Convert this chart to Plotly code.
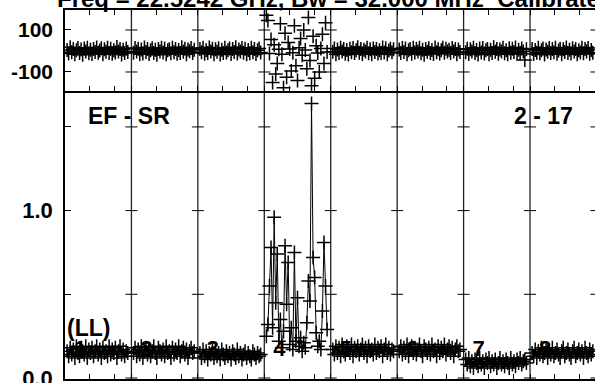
import plotly.graph_objects as go

# ---------------- data ----------------
panel_labels = ["1", "2", "3", "4", "5", "6", "7", "8"]
channels = [2 + 1.5 * i for i in range(40)]   # channel index inside each 64-channel panel
panel_width = 64

amp_1 = [0.16,0.13,0.18,0.14,0.17,0.12,0.19,0.15,0.13,0.18,0.16,0.14,0.19,0.12,0.17,0.15,0.18,0.13,0.16,0.19,
         0.14,0.17,0.12,0.18,0.15,0.16,0.13,0.19,0.14,0.17,0.15,0.18,0.12,0.16,0.19,0.14,0.17,0.13,0.16,0.15]
amp_2 = [0.15,0.18,0.13,0.17,0.14,0.19,0.12,0.16,0.18,0.14,0.17,0.13,0.16,0.19,0.15,0.12,0.18,0.16,0.14,0.17,
         0.13,0.19,0.15,0.16,0.12,0.18,0.14,0.17,0.15,0.19,0.13,0.16,0.18,0.14,0.17,0.12,0.16,0.18,0.15,0.16]
amp_3 = [0.15,0.12,0.17,0.13,0.16,0.11,0.15,0.14,0.17,0.12,0.16,0.13,0.15,0.11,0.17,0.14,0.12,0.16,0.13,0.15,
         0.11,0.16,0.14,0.12,0.17,0.13,0.15,0.11,0.14,0.16,0.12,0.15,0.13,0.11,0.16,0.14,0.12,0.15,0.13,0.14]
amp_4 = [0.25,0.32,0.55,0.78,0.30,0.96,0.45,0.74,0.22,0.35,0.18,0.28,0.79,0.44,0.69,0.20,0.30,0.17,0.75,0.22,
         0.48,0.19,0.24,0.16,0.21,0.18,0.33,0.58,0.46,1.64,0.72,0.60,0.27,0.19,0.22,0.17,0.40,0.81,0.55,0.29]
amp_5 = [0.17,0.14,0.19,0.15,0.18,0.13,0.20,0.16,0.14,0.19,0.17,0.15,0.20,0.13,0.18,0.16,0.19,0.14,0.17,0.20,
         0.15,0.18,0.13,0.19,0.16,0.17,0.14,0.20,0.15,0.18,0.16,0.19,0.13,0.17,0.20,0.15,0.18,0.14,0.17,0.16]
amp_6 = [0.16,0.19,0.14,0.18,0.15,0.20,0.13,0.17,0.19,0.15,0.18,0.14,0.17,0.20,0.16,0.13,0.19,0.17,0.15,0.18,
         0.14,0.20,0.16,0.17,0.13,0.19,0.15,0.18,0.16,0.20,0.14,0.17,0.19,0.15,0.18,0.13,0.17,0.19,0.16,0.17]
amp_7 = [0.11,0.08,0.12,0.07,0.10,0.06,0.11,0.09,0.07,0.12,0.08,0.10,0.06,0.11,0.09,0.12,0.07,0.10,0.08,0.11,
         0.06,0.09,0.12,0.08,0.10,0.07,0.11,0.09,0.06,0.12,0.08,0.10,0.07,0.11,0.09,0.12,0.08,0.10,0.11,0.09]
amp_8 = [0.15,0.13,0.17,0.12,0.16,0.14,0.18,0.13,0.15,0.17,0.12,0.16,0.14,0.18,0.13,0.15,0.17,0.14,0.12,0.16,
         0.18,0.13,0.15,0.17,0.14,0.12,0.16,0.18,0.13,0.15,0.17,0.14,0.16,0.12,0.18,0.15,0.13,0.17,0.14,0.16]

phs_1 = [5,-12,18,-6,10,-15,3,14,-9,7,-18,12,-3,16,-11,6,-14,9,-5,17,-8,2,13,-16,8,-4,15,-10,11,-13,4,-7,19,-2,9,-17,6,-9,12,-5]
phs_2 = [-8,14,-3,11,-16,7,-12,17,-5,9,-14,4,13,-10,6,-18,10,-2,15,-7,12,-15,3,8,-11,16,-6,10,-13,5,-9,18,-4,11,-16,7,-1,14,-10,6]
phs_3 = [10,-6,15,-13,4,-9,17,-2,11,-15,8,-4,13,-17,6,-10,16,-7,3,12,-14,9,-5,18,-12,7,-3,14,-8,11,-16,5,-11,15,-6,9,-14,4,12,-7]
phs_4 = [170,145,-12,55,-150,30,-110,-60,8,130,-15,-175,85,-125,40,10,-95,-8,120,-70,
         -140,15,60,-20,100,5,-85,160,-45,-165,70,-130,25,-10,-100,12,80,-60,135,-5]
phs_5 = [-4,12,-15,7,-9,16,-2,10,-13,5,-17,11,-6,14,-10,3,18,-8,9,-14,6,-3,15,-11,8,-16,12,-5,10,-12,4,-9,17,-7,13,-15,2,11,-6,8]
phs_6 = [7,-10,14,-5,12,-16,3,9,-13,16,-7,11,-2,15,-11,6,-18,10,-4,13,-9,5,-14,17,-6,8,-12,4,15,-8,11,-3,6,-10,14,-3,9,-15,7,-5]
phs_7 = [-6,11,-14,8,-3,16,-10,5,-17,12,-7,14,-12,3,9,-15,6,-9,18,-4,10,-13,7,-2,15,-11,4,-16,13,-8,11,-5,17,-14,6,-9,12,-3,-43,8]
phs_8 = [9,-14,5,-8,16,-11,3,12,-17,7,-4,14,-10,10,-6,15,-13,2,11,-16,8,-5,17,-9,6,-12,13,-3,10,-15,4,-7,16,-11,9,-2,14,-13,5,-8]

amp_panels = [amp_1, amp_2, amp_3, amp_4, amp_5, amp_6, amp_7, amp_8]
phs_panels = [phs_1, phs_2, phs_3, phs_4, phs_5, phs_6, phs_7, phs_8]

amp_ticks = [0.0, 0.5, 1.0, 1.5]
amp_ticktext = ["0.0", "", "1.0", ""]
phs_ticks = [-100, 100]
phs_ticktext = ["-100", "100"]

title_text = "Freq = 22.5242 GHz, Bw = 32.000 MHz\u00a0\u00a0Calibrated"
baseline_label = "EF - SR"
scan_label = "2 - 17"
pol_label = "(LL)"

# ---------------- figure ----------------
FONT = "Liberation Sans, Arial, sans-serif"
W, H = 595, 383
ML, MR, MT, MB = 65, 0, 10, 4
plot_h = H - MT - MB
split = (379 - 91) / plot_h
xmax = 510.6

fig = go.Figure()

# panel number labels (drawn beneath data)
fig.add_trace(go.Scatter(
    x=[k * panel_width + 14.5 for k in range(len(panel_labels))],
    y=[0.167] * len(panel_labels),
    mode="text", text=panel_labels,
    textfont=dict(family=FONT, size=22, color="black", weight="bold"),
    xaxis="x", yaxis="y", hoverinfo="skip", showlegend=False))

mk = dict(symbol="cross-thin", size=10, line=dict(width=1.5, color="black"), color="black")
for k in range(8):
    xs = [k * panel_width + c for c in channels]
    fig.add_trace(go.Scatter(x=xs, y=amp_panels[k], mode="lines+markers",
                             line=dict(color="black", width=1), marker=mk,
                             xaxis="x", yaxis="y", showlegend=False))
    fig.add_trace(go.Scatter(x=xs, y=phs_panels[k], mode="markers", marker=mk,
                             xaxis="x2", yaxis="y2", showlegend=False))

xticks = [k * panel_width + d for k in range(9) for d in (0, 24, 48)]

axis_common = dict(showgrid=False, zeroline=False, showline=True, linecolor="black",
                   linewidth=1.5, ticks="inside", tickcolor="black", tickwidth=1,
                   automargin=False)

fig.update_layout(
    width=W, height=H,
    margin=dict(l=ML, r=MR, t=MT, b=MB, autoexpand=False),
    paper_bgcolor="white", plot_bgcolor="white",
    showlegend=False,
    xaxis=dict(axis_common, domain=[0, 1], range=[0, xmax], tickvals=xticks,
               ticklen=5, showticklabels=False, mirror=False, anchor="y"),
    yaxis=dict(axis_common, domain=[0, split], range=[-0.006, 1.7145],
               tickvals=amp_ticks, ticktext=amp_ticktext, ticklen=6,
               tickfont=dict(family=FONT, size=22, color="black", weight="bold"),
               ticklabelstandoff=6, ticklabeloverflow="allow", anchor="x"),
    xaxis2=dict(axis_common, domain=[0, 1], range=[0, xmax], tickvals=xticks,
                ticklen=5, showticklabels=False, mirror="ticks", anchor="y2"),
    yaxis2=dict(axis_common, domain=[split, 1], range=[-190.5, 195.2],
                tickvals=phs_ticks, ticktext=phs_ticktext, ticklen=6,
                tickfont=dict(family=FONT, size=21, color="black", weight="bold"),
                ticklabelstandoff=6, ticklabeloverflow="allow", anchor="x2"),
)

shapes = []
for k in range(1, 9):
    xb = k * panel_width
    shapes.append(dict(type="line", xref="x", yref="paper", x0=xb, x1=xb, y0=0, y1=1,
                       line=dict(color="#222", width=1.3), layer="below"))
    for yv in amp_ticks:
        shapes.append(dict(type="line", xref="x", yref="y", xsizemode="pixel", xanchor=xb,
                           x0=-6, x1=6, y0=yv, y1=yv, line=dict(color="black", width=1)))
    for yv in phs_ticks:
        shapes.append(dict(type="line", xref="x2", yref="y2", xsizemode="pixel", xanchor=xb,
                           x0=-6, x1=6, y0=yv, y1=yv, line=dict(color="black", width=1)))
fig.update_layout(shapes=shapes)

def px_x(px):
    return (px - ML) / (W - ML - MR)

def px_y(py):
    return (H - MB - py) / plot_h

ann_font = dict(family=FONT, size=23, color="black", weight="bold")
fig.update_layout(annotations=[
    dict(text=title_text, xref="paper", yref="paper", x=px_x(55), y=px_y(-2),
         xanchor="left", yanchor="middle", showarrow=False,
         font=dict(family=FONT, size=24, color="black", weight="bold")),
    dict(text=baseline_label, xref="paper", yref="paper", x=px_x(129), y=px_y(116.5),
         xanchor="center", yanchor="middle", showarrow=False, font=ann_font),
    dict(text=scan_label, xref="paper", yref="paper", x=px_x(543), y=px_y(116.5),
         xanchor="center", yanchor="middle", showarrow=False, font=ann_font),
    dict(text=pol_label, xref="paper", yref="paper", x=px_x(88.5), y=px_y(328),
         xanchor="center", yanchor="middle", showarrow=False, font=ann_font),
])

fig.write_html("out.html", config={"displayModeBar": False},
               post_script="document.body.style.margin='0';")
